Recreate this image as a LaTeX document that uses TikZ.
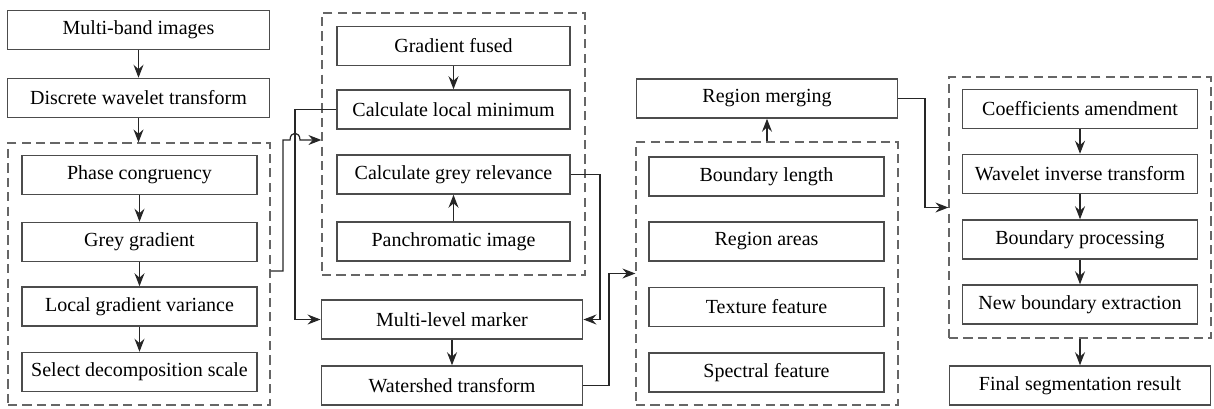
\documentclass[tikz,border=0pt]{standalone}
\usepackage{fontspec}
\setmainfont{Liberation Serif}
\usetikzlibrary{arrows.meta}
\begin{document}
\begin{tikzpicture}[x=0.5pt,y=-0.5pt,
  every node/.style={font=\rmfamily\fontsize{10}{12}\selectfont, text=black},
  box/.style={draw=black!70, line width=0.65pt, inner sep=0pt, minimum height=19.6pt},
  wbox/.style={box, minimum width=130.8pt},
  ibox/.style={box, minimum width=117.5pt},
  grp/.style={draw=black!60, line width=0.6pt, dash pattern=on 4.6pt off 2.6pt, inner sep=0pt},
  link/.style={draw=black!85, line width=0.6pt},
  arr/.style={link, -{Stealth[length=6.5pt, width=5pt, inset=2.2pt]}}
]
\useasboundingbox (0,0) rectangle (1214,408);

% column 1
\node[wbox] (mb) at (138.5,30) {Multi-band images};
\node[wbox] (dwt) at (138.5,98) {Discrete wavelet transform};
\node[grp, minimum width=131pt, minimum height=131pt] (d1) at (139,274) {};
\node[ibox] (pc) at (139.5,175) {Phase congruency};
\node[ibox] (gg) at (139.5,242) {Grey gradient};
\node[ibox] (lgv) at (139.5,306.5) {Local gradient variance};
\node[ibox] (sds) at (139.5,372) {Select decomposition scale};

% column 2
\node[grp, minimum width=131.5pt, minimum height=131pt] (d2) at (453.5,144) {};
\node[ibox, minimum width=116.5pt] (gf) at (453.5,46) {Gradient fused};
\node[ibox, minimum width=116.5pt] (clm) at (453.5,109.5) {Calculate local minimum};
\node[ibox, minimum width=116.5pt] (cgr) at (453.5,174.5) {Calculate grey relevance};
\node[ibox, minimum width=116.5pt] (pi) at (453.5,241.5) {Panchromatic image};
\node[wbox] (mlm) at (452,319.5) {Multi-level marker};
\node[wbox] (wt) at (452,385.5) {Watershed transform};

% column 3
\node[wbox] (rm) at (767,98.5) {Region merging};
\node[grp, minimum width=131pt, minimum height=131.5pt] (d3) at (767,273.5) {};
\node[ibox] (bl) at (766.5,176.5) {Boundary length};
\node[ibox] (ra) at (766.5,241.5) {Region areas};
\node[ibox] (tf) at (766.5,307) {Texture feature};
\node[ibox] (sf) at (766.5,372.5) {Spectral feature};

% column 4
\node[grp, minimum width=131pt, minimum height=130.5pt] (d4) at (1080,207.5) {};
\node[ibox] (ca) at (1080,109) {Coefficients amendment};
\node[ibox] (wit) at (1080,174) {Wavelet inverse transform};
\node[ibox] (bp) at (1080,239.5) {Boundary processing};
\node[ibox] (nbe) at (1080,304.5) {New boundary extraction};
\node[wbox] (fsr) at (1080,385.5) {Final segmentation result};

% connectors column 1
\draw[arr] (mb) -- (mb.south |- dwt.north);
\draw[arr] (dwt) -- (dwt.south |- d1.north);
\draw[arr] (pc) -- (gg);
\draw[arr] (gg) -- (lgv);
\draw[arr] (lgv) -- (sds);

% column 1 -> column 2 (with hop)
\draw[arr] ([yshift=1.5pt]d1.east) -- (283,271) -- (283,140) -- (290,140)
  .. controls (290,131) and (300,131) .. (300,140) -- ([yshift=2pt]d2.west);

% column 2
\draw[arr] (gf) -- (clm);
\draw[arr] (pi) -- (cgr);
\draw[arr] (clm.west) -- (295,109.5) |- (mlm.west);
\draw[arr] (cgr.east) -- (600,174.5) |- (mlm.east);
\draw[arr] (mlm) -- (wt);
\draw[arr] (wt.east) -- (609,385.5) |- (d3.west);

% column 3
\draw[arr] (d3.north -| rm.south) -- (rm.south);
\draw[arr] (rm.east) -- (925,98.5) |- (d4.west);

% column 4
\draw[arr] (ca) -- (wit);
\draw[arr] (wit) -- (bp);
\draw[arr] (bp) -- (nbe);
\draw[arr] (d4.south -| fsr.north) -- (fsr.north);
\end{tikzpicture}
\end{document}
